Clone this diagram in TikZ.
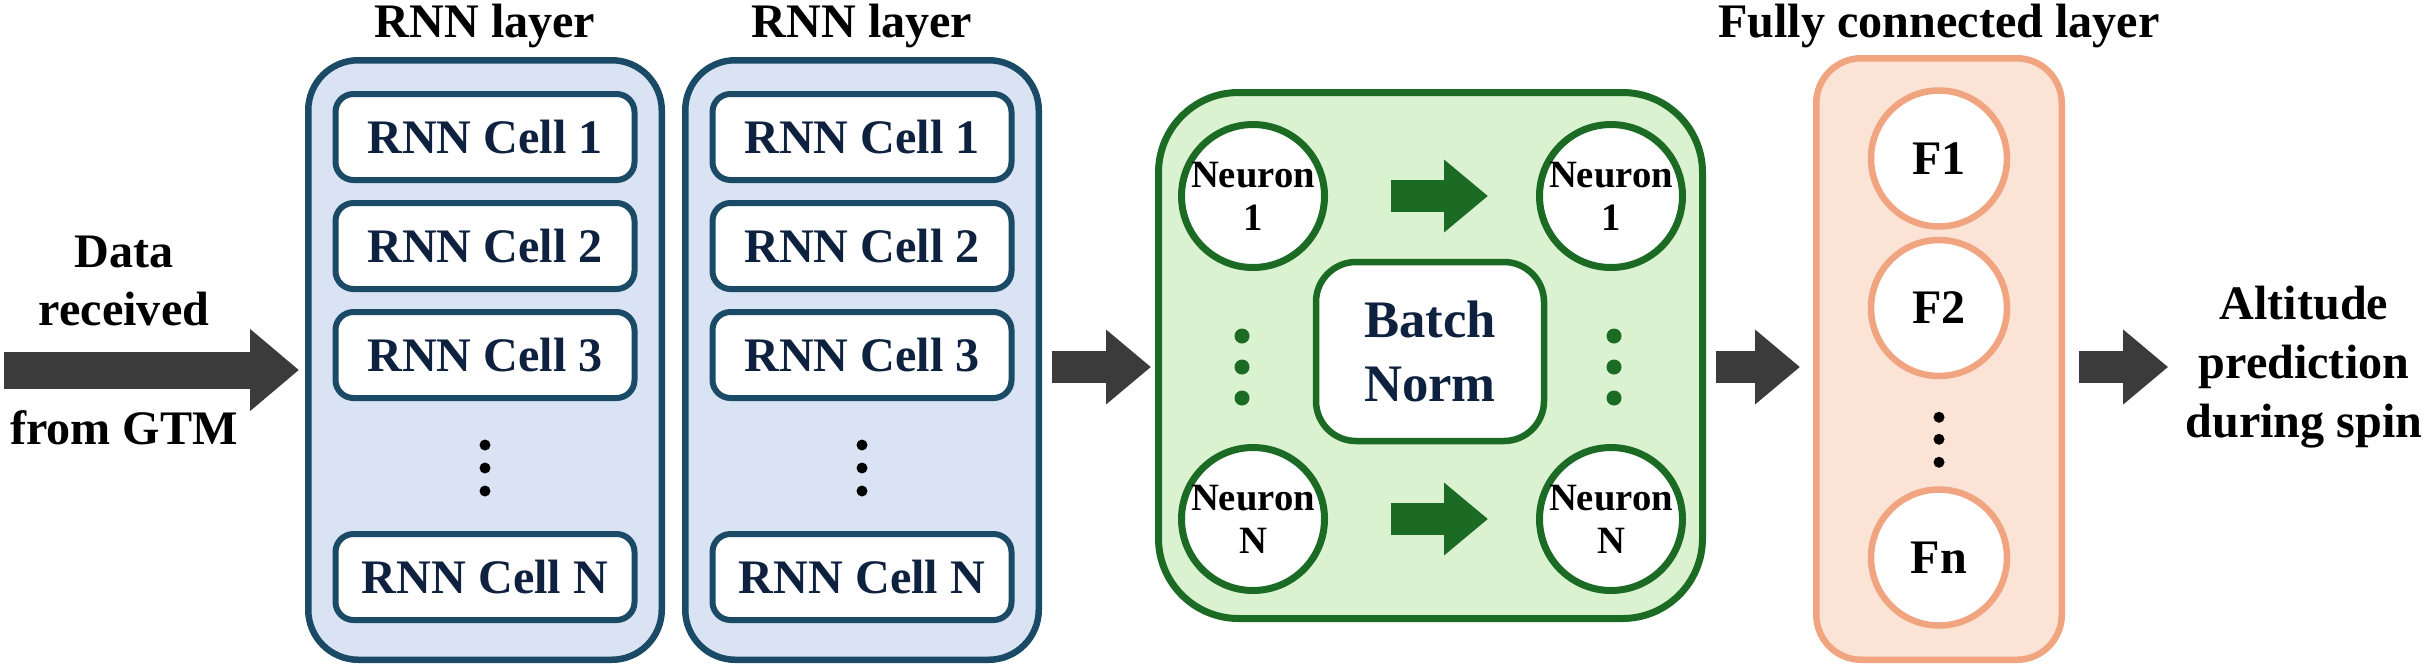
\documentclass[tikz,border=0pt]{standalone}
\usepackage{fontspec}
\setmainfont{Liberation Serif}
\usepackage{tikz}
\usetikzlibrary{positioning,arrows.meta}
\usepackage{xcolor}

\definecolor{rnnline}{HTML}{1A4A66}
\definecolor{rnnfill}{HTML}{DAE3F3}
\definecolor{navytext}{HTML}{0E2240}
\definecolor{bnline}{HTML}{1C6B24}
\definecolor{bnfill}{HTML}{DAF2D0}
\definecolor{fcline}{HTML}{F0A47F}
\definecolor{fcfill}{HTML}{FBE3D6}
\definecolor{flowgray}{HTML}{3B3B3B}

\begin{document}
\begin{tikzpicture}[node distance=0.17cm, font=\fontsize{13.7}{16.7}\selectfont\bfseries,
    layerbox/.style={draw=rnnline, fill=rnnfill, line width=0.065cm, rounded corners=0.5cm, minimum width=3.535cm, minimum height=5.995cm},
    cellbox/.style={draw=rnnline, fill=white, line width=0.06cm, rounded corners=0.18cm, minimum width=2.99cm, minimum height=0.86cm, text=navytext},
    normstage/.style={draw=bnline, fill=bnfill, line width=0.07cm, rounded corners=0.8cm, minimum width=5.44cm, minimum height=5.26cm},
    normbox/.style={draw=bnline, fill=white, line width=0.065cm, rounded corners=0.4cm, minimum width=2.28cm, minimum height=1.79cm, text=navytext, align=center, font=\fontsize{15}{18.4}\selectfont\bfseries},
    neuron/.style={circle, draw=bnline, fill=white, line width=0.07cm, minimum size=1.43cm, inner sep=0pt, align=center, font=\fontsize{11}{12.3}\selectfont\bfseries},
    fcbox/.style={draw=fcline, fill=fcfill, line width=0.065cm, rounded corners=0.45cm, minimum width=2.455cm, minimum height=6.015cm},
    fcnode/.style={circle, draw=fcline, fill=white, line width=0.065cm, minimum size=1.36cm, inner sep=0pt},
    flow/.style={flowgray, line width=0.32cm, -{Triangle[length=0.45cm, width=0.72cm]}},
    bigflow/.style={flowgray, line width=0.37cm, -{Triangle[length=0.49cm, width=0.79cm]}},
    innerflow/.style={bnline, line width=0.32cm, -{Triangle[length=0.44cm, width=0.70cm]}}]
    \useasboundingbox (0,0) rectangle (24.27,-6.66);

    % RNN layers
    \node[layerbox] (rnnA) at (4.85,-3.60) {};
    \node[layerbox, right=of rnnA] (rnnB) {};
    \foreach \lay in {A,B} {
        \node[anchor=base] (lab\lay) at ([yshift=0.20cm]rnn\lay.north) {RNN layer};
        \node[cellbox, below=0.34cm of rnn\lay.north] (c1\lay) {RNN Cell 1};
        \node[cellbox, below=of c1\lay] (c2\lay) {RNN Cell 2};
        \node[cellbox, below=of c2\lay] (c3\lay) {RNN Cell 3};
        \node[cellbox, below=1.3cm of c3\lay] (cN\lay) {RNN Cell N};
        \foreach \dy in {0.86,0.63,0.40}
            \fill ([yshift=\dy cm]cN\lay.north) circle (0.055cm);
    }

    % batch norm stage
    \node[normstage] (stage) at (14.305,-3.555) {};
    \node[normbox] (bn) at (14.30,-3.515) {Batch\\Norm};
    \node[neuron] (n1L) at (12.53,-1.96) {Neuron\\1};
    \node[neuron, right=2.08cm of n1L] (n1R) {Neuron\\1};
    \node[neuron, below=1.73cm of n1L] (nNL) {Neuron\\N};
    \node[neuron, right=2.08cm of nNL] (nNR) {Neuron\\N};
    \draw[innerflow, shorten <=0.63cm, shorten >=0.48cm] (n1L) -- (n1R);
    \draw[innerflow, shorten <=0.63cm, shorten >=0.48cm] (nNL) -- (nNR);
    \foreach \dy in {1.40,1.71,2.02} {
        \fill[bnline] ([xshift=-0.11cm, yshift=-\dy cm]n1L.center) circle (0.075cm);
        \fill[bnline] ([xshift=0.03cm, yshift=-\dy cm]n1R.center) circle (0.075cm);
    }

    % fully connected layer
    \node[fcbox] (fc) at (19.39,-3.59) {};
    \node[anchor=base] (labfc) at ([yshift=0.18cm]fc.north) {Fully connected layer};
    \node[fcnode] (f1) at (19.39,-1.585) {F1};
    \node[fcnode, below=0.07cm of f1] (f2) {F2};
    \node[fcnode, below=1.07cm of f2] (fn) {Fn};
    \foreach \dy in {0.38,0.60,0.83}
        \fill ([yshift=-\dy cm]f2.south) circle (0.055cm);

    % input and output
    \node[align=center] (intop) at (1.24,-2.81) {Data\\received};
    \node (inbot) at (1.24,-4.275) {from GTM};
    \node[align=center] (out) at (23.04,-3.67) {Altitude\\prediction\\during spin};
    \coordinate (flowin) at (0.04,-3.70);
    \coordinate (flowmid) at (0,-3.67);
    \draw[bigflow, shorten >=0.06cm] (flowin) -- (flowin -| rnnA.west);
    \draw[flow, shorten <=0.10cm, shorten >=0.04cm] (rnnB.east |- flowmid) -- (stage.west |- flowmid);
    \draw[flow, shorten <=0.10cm, shorten >=0.13cm] (stage.east |- flowmid) -- (fc.west |- flowmid);
    \draw[flow, shorten <=0.14cm, shorten >=0.05cm] (fc.east |- flowmid) -- (out.west |- flowmid);
\end{tikzpicture}
\end{document}
